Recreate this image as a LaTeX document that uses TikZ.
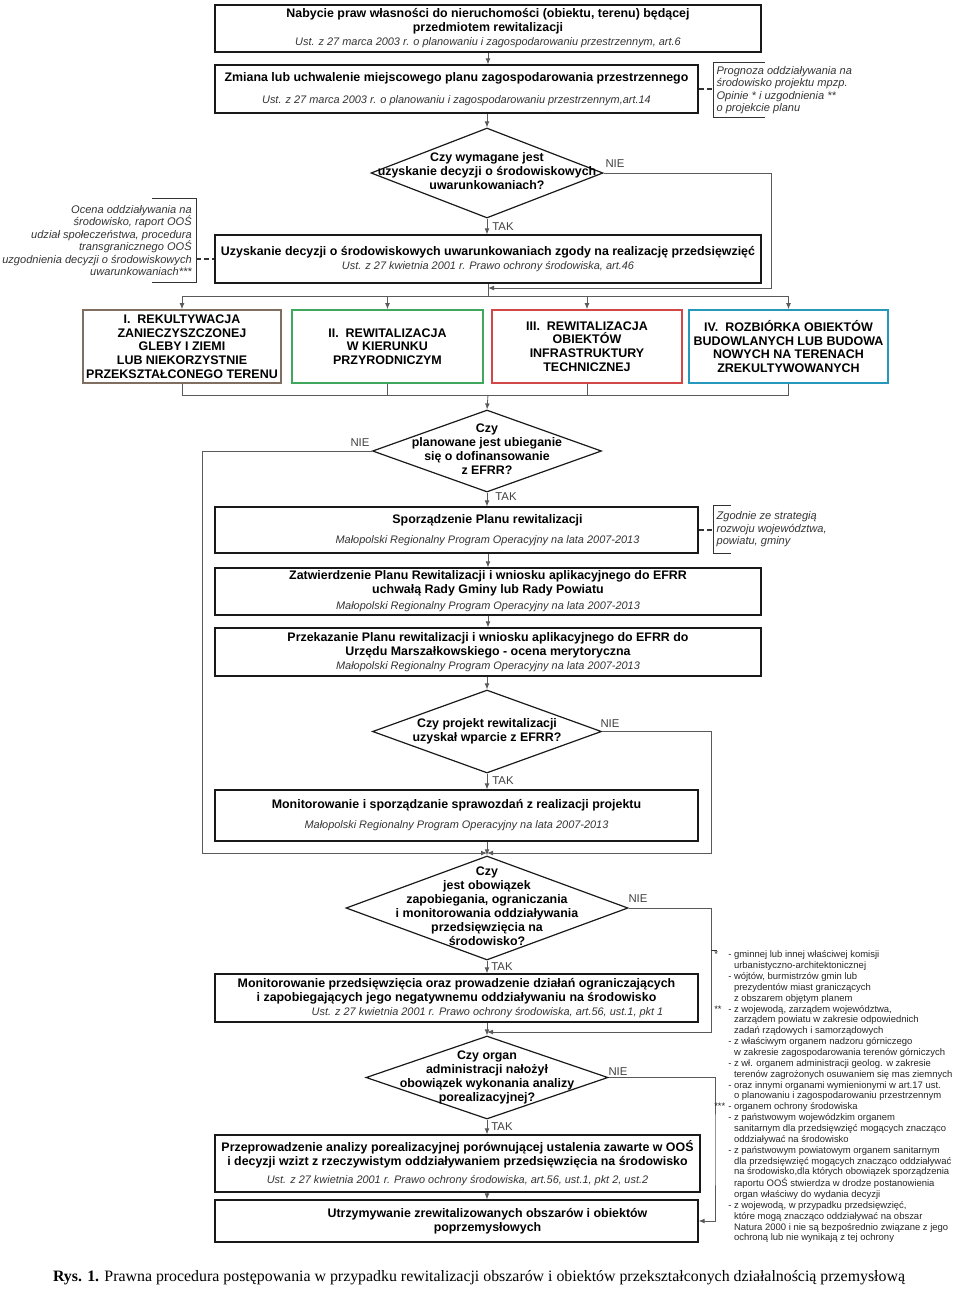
\documentclass[tikz,border=0pt]{standalone}
\usepackage{fontspec}
\setmainfont{Liberation Sans}
\newfontfamily\capfont{Liberation Serif}
\usepackage{xcolor}
\usetikzlibrary{shapes.geometric, arrows.meta, positioning, calc}

\definecolor{kI}{RGB}{128,110,96}
\definecolor{kII}{RGB}{64,168,92}
\definecolor{kIII}{RGB}{210,72,72}
\definecolor{kIV}{RGB}{38,152,188}
\definecolor{conn}{RGB}{90,90,90}

\newcommand\lawref[1]{{\fontsize{8.2}{9}\selectfont\mdseries\itshape\color{black!80}#1}}
\newcommand\dtext[1]{\makebox[0pt]{\raisebox{-2.2pt}[0pt][0pt]{\begin{tabular}{@{}c@{}}#1\end{tabular}}}}
\newcommand\rs{\hspace*{46.5pt}}
\newcommand\cont{\phantom{- }}

\tikzset{
  block/.style={
    rectangle, draw=black!90, line width=0.9pt, inner sep=0pt,
    align=center, font=\fontsize{9.3}{10.5}\selectfont\bfseries
  },
  decision/.style={
    diamond, draw=black!90, line width=0.9pt, inner sep=0pt,
    font=\fontsize{9.3}{10.5}\selectfont\bfseries
  },
  kind/.style={
    rectangle, draw=#1, line width=1.3pt, inner sep=0pt, align=center,
    minimum height=54.75pt, font=\fontsize{9.35}{10.3}\selectfont\bfseries
  },
  note/.style={inner sep=0pt, font=\fontsize{8.3}{9.3}\selectfont\itshape, text=black!80},
  yn/.style={inner sep=1pt, font=\fontsize{8.5}{10}\selectfont, text=black!75},
  line/.style={draw=conn, line width=0.6pt},
  arrow/.style={line, -{Latex[length=4.5pt,width=3.6pt]}},
  dashline/.style={draw=black!80, line width=0.9pt, dash pattern=on 4pt off 2pt},
  bracket/.style={draw=black!80, line width=0.6pt},
}

\begin{document}
\begin{tikzpicture}[x=0.75pt, y=-0.75pt]
  \useasboundingbox (0,0) rectangle (960,1290);

  % upper part
  \node[block, minimum width=409.5pt, minimum height=35.25pt] (b1) at (488,28.5)
    {Nabycie praw własności do nieruchomości (obiektu, terenu) będącej\\przedmiotem rewitalizacji\\\lawref{Ust. z 27 marca 2003 r. o planowaniu i zagospodarowaniu przestrzennym, art.6}};
  \node[block, minimum width=362.25pt, minimum height=36pt] (b2) at (456.5,89)
    {Zmiana lub uchwalenie miejscowego planu zagospodarowania przestrzennego\\[6.5pt]\lawref{Ust. z 27 marca 2003 r. o planowaniu i zagospodarowaniu przestrzennym,art.14}};
  \node[note, anchor=west, minimum height=40.5pt, inner xsep=2.5pt, align=left] (p1) at (713,90)
    {Prognoza oddziaływania na\\środowisko projektu mpzp.\\Opinie * i uzgodnienia **\\o projekcie planu};
  \node[decision, minimum width=174pt, minimum height=67.5pt] (d1) at (487,173)
    {\dtext{Czy wymagane jest\\uzyskanie decyzji o środowiskowych\\uwarunkowaniach?}};
  \node[block, minimum width=409.5pt, minimum height=36pt] (b3) at (488,259)
    {Uzyskanie decyzji o środowiskowych uwarunkowaniach zgody na realizację przedsięwzięć\\\lawref{Ust. z 27 kwietnia 2001 r. Prawo ochrony środowiska, art.46}};
  \node[note, anchor=east, minimum height=62.25pt, inner xsep=3pt, align=right] (o1) at (196,240.5)
    {Ocena oddziaływania na\\środowisko, raport OOŚ\\udział społeczeństwa, procedura\\transgranicznego OOŚ\\uzgodnienia decyzji o środowiskowych\\uwarunkowaniach***};
  \node[yn] (n1) at (615,164) {NIE};
  \node[yn] (t1) at (503,227) {TAK};

  \draw[arrow] (b1.south) -- (b1.south |- b2.north);
  \draw[arrow] (d1.north |- b2.south) -- (d1.north);
  \draw[arrow] (d1.south) -- (d1.south |- b3.north);
  \draw[dashline] (b2.east) -- (b2.east -| p1.west);
  \draw[bracket] (p1.north west) ++(52,0) -- (p1.north west) -- (p1.south west) -- ++(52,0);
  \draw[dashline] (o1.east |- b3.west) -- (b3.west);
  \draw[bracket] (o1.north east) ++(-44,0) -- (o1.north east) -- (o1.south east) -- ++(-44,0);

  % four kinds of works
  \node[kind=kI, minimum width=148.5pt] (r1) at (182,346.5)
    {I.~~REKULTYWACJA\\ZANIECZYSZCZONEJ\\GLEBY I ZIEMI\\LUB NIEKORZYSTNIE\\PRZEKSZTAŁCONEGO TERENU};
  \node[kind=kII, minimum width=143.25pt] (r2) at (387.5,346.5)
    {II.~~REWITALIZACJA\\W KIERUNKU\\PRZYRODNICZYM};
  \node[kind=kIII, minimum width=142.5pt] (r3) at (587,346.5)
    {III.~~REWITALIZACJA\\OBIEKTÓW\\INFRASTRUKTURY\\TECHNICZNEJ};
  \node[kind=kIV, minimum width=149.25pt] (r4) at (788.5,346.5)
    {IV.~~ROZBIÓRKA OBIEKTÓW\\BUDOWLANYCH LUB BUDOWA\\NOWYCH NA TERENACH\\ZREKULTYWOWANYCH};

  \coordinate (j1) at (488,288);
  \coordinate (k1) at (771,288);
  \coordinate (split) at (488,296);
  \coordinate (merge) at (488,395);
  \draw[arrow] (d1.east) -| (k1) -- (j1);
  \draw[line] (b3.south) -- (split);
  \foreach \r in {r1,r2,r3,r4} {
    \draw[arrow] (split) -| (\r.north);
    \draw[line] (\r.south) |- (merge);
  }

  % funding
  \node[decision, minimum width=171.75pt, minimum height=61.5pt] (d2) at (487,451)
    {\dtext{Czy\\planowane jest ubieganie\\się o dofinansowanie\\z EFRR?}};
  \node[yn] (n2) at (360,443) {NIE};
  \node[yn] (t2) at (506,497) {TAK};
  \node[block, minimum width=362.25pt, minimum height=34.5pt] (b4) at (456.5,530)
    {\rs Sporządzenie Planu rewitalizacji\\[4.5pt]\lawref{\rs Małopolski Regionalny Program Operacyjny na lata 2007-2013}};
  \node[note, anchor=west, minimum height=35.25pt, inner xsep=2.5pt, align=left] (z1) at (713,529.5)
    {Zgodnie ze strategią\\rozwoju województwa,\\powiatu, gminy};
  \node[block, minimum width=409.5pt, minimum height=35.25pt] (b5) at (488,591.5)
    {Zatwierdzenie Planu Rewitalizacji i wniosku aplikacyjnego do EFRR\\uchwałą Rady Gminy lub Rady Powiatu\\[1.5pt]\lawref{Małopolski Regionalny Program Operacyjny na lata 2007-2013}};
  \node[block, minimum width=409.5pt, minimum height=36pt] (b6) at (488,652)
    {Przekazanie Planu rewitalizacji i wniosku aplikacyjnego do EFRR do\\Urzędu Marszałkowskiego - ocena merytoryczna\\\lawref{Małopolski Regionalny Program Operacyjny na lata 2007-2013}};
  \node[decision, minimum width=171.75pt, minimum height=62.25pt] (d3) at (487,731.5)
    {\dtext{Czy projekt rewitalizacji\\uzyskał wparcie z EFRR?}};
  \node[yn] (n3) at (610,724) {NIE};
  \node[yn] (t3) at (503,781) {TAK};
  \node[block, minimum width=362.25pt, minimum height=38.25pt] (b7) at (456.5,815.5)
    {Monitorowanie i sporządzanie sprawozdań z realizacji projektu\\[4.5pt]\lawref{Małopolski Regionalny Program Operacyjny na lata 2007-2013}};

  \draw[arrow] (merge) -- (d2.north);
  \draw[arrow] (d2.south) -- (d2.south |- b4.north);
  \draw[dashline] (b4.east) -- (b4.east -| z1.west);
  \draw[bracket] (z1.north west) ++(18,0) -- (z1.north west) -- (z1.south west) -- ++(18,0);
  \draw[arrow] (b5.north |- b4.south) -- (b5.north);
  \draw[arrow] (b5.south) -- (b6.north);
  \draw[arrow] (d3.north |- b6.south) -- (d3.north);
  \draw[arrow] (d3.south) -- (d3.south |- b7.north);

  \coordinate (k2) at (202,853);
  \coordinate (k3) at (711,853);
  \coordinate (j2) at (487,853);
  \draw[arrow] (d2.west) -| (k2) -- (j2);
  \draw[arrow] (d3.east) -| (k3) -- (j2);

  % environmental monitoring
  \node[decision, minimum width=211.5pt, minimum height=78pt] (d4) at (487,908)
    {\dtext{Czy\\jest obowiązek\\zapobiegania, ograniczania\\i monitorowania oddziaływania\\przedsięwzięcia na\\środowisko?}};
  \node[yn] (n4) at (638,899) {NIE};
  \node[yn] (t4) at (502,967) {TAK};
  \node[block, minimum width=362.25pt, minimum height=36pt] (b8) at (456.5,998)
    {Monitorowanie przedsięwzięcia oraz prowadzenie działań ograniczających\\i zapobiegających jego negatywnemu oddziaływaniu na środowisko\\\lawref{\rs Ust. z 27 kwietnia 2001 r. Prawo ochrony środowiska, art.56, ust.1, pkt 1}};
  \node[decision, minimum width=181.5pt, minimum height=62.25pt] (d5) at (487,1077.5)
    {\dtext{Czy organ\\administracji nałożył\\obowiązek wykonania analizy\\porealizacyjnej?}};
  \node[yn] (n5) at (618,1072) {NIE};
  \node[yn] (t5) at (502,1127) {TAK};
  \node[block, minimum width=363.75pt, minimum height=42.75pt] (b9) at (457.5,1163.5)
    {Przeprowadzenie analizy porealizacyjnej porównującej ustalenia zawarte w OOŚ\\i decyzji wzizt z rzeczywistym oddziaływaniem przedsięwzięcia na środowisko\\[3pt]\lawref{Ust. z 27 kwietnia 2001 r. Prawo ochrony środowiska, art.56, ust.1, pkt 2, ust.2}};
  \node[block, minimum width=362.25pt, minimum height=31.5pt] (b10) at (456.5,1221)
    {\rs Utrzymywanie zrewitalizowanych obszarów i obiektów\\\rs poprzemysłowych};

  \draw[arrow] (d4.north |- b7.south) -- (d4.north);
  \draw[arrow] (d4.south) -- (d4.south |- b8.north);
  \draw[arrow] (d5.north |- b8.south) -- (d5.north);
  \draw[arrow] (d5.south) -- (d5.south |- b9.north);
  \draw[arrow] (d5.south |- b9.south) -- (d5.south |- b10.north);

  \coordinate (k4) at (711,1032);
  \coordinate (j3) at (487,1032);
  \coordinate (k5) at (715,1150);
  \draw[arrow] (d4.east) -| (k4) -- (j3);
  \draw[arrow] (d5.east) -| (k5) |- (b10.east);

  % footnotes
  \node[anchor=north west, inner sep=0pt, font=\fontsize{7.1}{8.14}\selectfont, text=black!85] (fn) at (714,950) {%
    \begin{tabular}{@{}p{10.5pt}@{}l@{}}
    {*}   & - gminnej lub innej właściwej komisji\\
          & \cont urbanistyczno-architektonicznej\\
          & - wójtów, burmistrzów gmin lub\\
          & \cont prezydentów miast graniczących\\
          & \cont z obszarem objętym planem\\
    {**}  & - z wojewodą, zarządem województwa,\\
          & \cont zarządem powiatu w zakresie odpowiednich\\
          & \cont zadań rządowych i samorządowych\\
          & - z właściwym organem nadzoru górniczego\\
          & \cont w zakresie zagospodarowania terenów górniczych\\
          & - z wł. organem administracji geolog. w zakresie\\
          & \cont terenów zagrożonych osuwaniem się mas ziemnych\\
          & - oraz innymi organami wymienionymi w art.17 ust.\\
          & \cont o planowaniu i zagospodarowaniu przestrzennym\\
    {***} & - organem ochrony środowiska\\
          & - z państwowym wojewódzkim organem\\
          & \cont sanitarnym dla przedsięwzięć mogących znacząco\\
          & \cont oddziaływać na środowisko\\
          & - z państwowym powiatowym organem sanitarnym\\
          & \cont dla przedsięwzięć mogących znacząco oddziaływać\\
          & \cont na środowisko,dla których obowiązek sporządzenia\\
          & \cont raportu OOŚ stwierdza w drodze postanowienia\\
          & \cont organ właściwy do wydania decyzji\\
          & - z wojewodą, w przypadku przedsięwzięć,\\
          & \cont które mogą znacząco oddziaływać na obszar\\
          & \cont Natura 2000 i nie są bezpośrednio związane z jego\\
          & \cont ochroną lub nie wynikają z tej ochrony
    \end{tabular}};
  \draw[bracket] (k4 |- fn.north) -- ++(6,0);

  \node[font=\capfont\fontsize{11.9}{13}\selectfont] (cap) at (479,1278)
    {\textbf{Rys. 1.} Prawna procedura postępowania w przypadku rewitalizacji obszarów i obiektów przekształconych działalnością przemysłową};
\end{tikzpicture}
\end{document}
